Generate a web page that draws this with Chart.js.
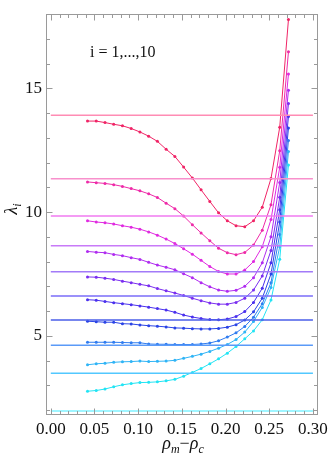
<!DOCTYPE html>
<html>
<head>
<meta charset="utf-8">
<script src="https://cdn.jsdelivr.net/npm/chart.js@4.4.1/dist/chart.umd.min.js"></script>
<style>
html, body { margin: 0; padding: 0; background: #fff; }
#wrap { width: 332px; height: 462px; position: relative; }
</style>
</head>
<body>
<div id="wrap"><canvas id="myChart"></canvas></div>
<script>
// sample positions on the rho_m - rho_c axis
const xValues = [0.042, 0.052, 0.062, 0.072, 0.082, 0.092, 0.102, 0.112, 0.122, 0.132, 0.142, 0.152,
                 0.162, 0.172, 0.182, 0.192, 0.202, 0.212, 0.222, 0.232, 0.242, 0.252, 0.262, 0.272];

// eigenvalues lambda_i
const lambda1 = [2.76, 2.79, 2.85, 2.94, 3.02, 3.07, 3.11, 3.12, 3.14, 3.18, 3.24, 3.37, 3.52, 3.68, 3.87, 4.07, 4.30, 4.57, 4.88, 5.20, 5.65, 6.45, 8.10, 11.90];
const lambda2 = [3.83, 3.87, 3.89, 3.93, 3.95, 3.96, 3.98, 3.96, 3.97, 3.98, 4.01, 4.09, 4.17, 4.26, 4.37, 4.50, 4.65, 4.85, 5.15, 5.58, 6.15, 6.95, 8.60, 12.45];
const lambda3 = [4.74, 4.74, 4.74, 4.74, 4.73, 4.72, 4.72, 4.67, 4.66, 4.66, 4.65, 4.65, 4.65, 4.67, 4.71, 4.80, 4.95, 5.12, 5.38, 5.75, 6.30, 7.15, 9.10, 12.90];
const lambda4 = [5.59, 5.57, 5.55, 5.55, 5.49, 5.48, 5.44, 5.41, 5.39, 5.36, 5.32, 5.31, 5.29, 5.28, 5.28, 5.30, 5.35, 5.45, 5.64, 5.97, 6.52, 7.50, 9.60, 13.40];
const lambda5 = [6.46, 6.44, 6.39, 6.34, 6.30, 6.26, 6.21, 6.16, 6.10, 6.04, 5.95, 5.84, 5.76, 5.70, 5.66, 5.65, 5.68, 5.78, 5.98, 6.35, 6.92, 7.95, 10.10, 13.87];
const lambda6 = [7.38, 7.37, 7.33, 7.28, 7.21, 7.15, 7.08, 7.02, 6.91, 6.82, 6.73, 6.63, 6.52, 6.42, 6.33, 6.28, 6.28, 6.35, 6.52, 6.85, 7.42, 8.45, 10.60, 14.39];
const lambda7 = [8.41, 8.38, 8.36, 8.29, 8.24, 8.16, 8.09, 7.97, 7.86, 7.77, 7.67, 7.51, 7.35, 7.15, 6.98, 6.85, 6.80, 6.84, 7.00, 7.35, 7.95, 9.00, 11.20, 14.93];
const lambda8 = [9.65, 9.60, 9.57, 9.52, 9.45, 9.39, 9.31, 9.20, 9.07, 8.91, 8.73, 8.52, 8.30, 8.05, 7.80, 7.60, 7.50, 7.50, 7.66, 8.00, 8.60, 9.70, 11.81, 15.58];
const lambda9 = [11.22, 11.19, 11.16, 11.11, 11.04, 10.95, 10.86, 10.74, 10.59, 10.36, 10.14, 9.84, 9.49, 9.16, 8.84, 8.54, 8.36, 8.28, 8.37, 8.67, 9.27, 10.30, 12.48, 16.48];
const lambda10 = [13.68, 13.68, 13.62, 13.55, 13.49, 13.38, 13.24, 13.07, 12.86, 12.54, 12.25, 11.82, 11.38, 10.90, 10.43, 9.97, 9.65, 9.45, 9.41, 9.65, 10.20, 11.36, 13.43, 17.79];

// reference levels (horizontal lines), i = 1..10
const levels = [1.96, 3.49, 4.62, 5.64, 6.61, 7.59, 8.64, 9.84, 11.35, 13.92];
const levelStart = 0;
const levelEnd = 0.30;

// tick labels
const xTicks = [0, 0.05, 0.10, 0.15, 0.20, 0.25, 0.30];
const yTicks = [5, 10, 15];

const curveColors = ['#22e4f4', '#2fb4f6', '#2f7cf0', '#2a44e6', '#4a30ee',
                     '#7a2ef0', '#b02cf0', '#e02ae0', '#ee2aa8', '#f02466'];
const levelColors = ['#7ff2ff', '#52c8ff', '#5a9af8', '#4a5ee8', '#7a6cf8',
                     '#a27af8', '#c87af8', '#f07af0', '#f890cc', '#ff8cb4'];

const allCurves = [lambda1, lambda2, lambda3, lambda4, lambda5, lambda6, lambda7, lambda8, lambda9, lambda10];

const datasets = [];
levels.forEach((lv, i) => {
    datasets.push({
        data: [{ x: levelStart, y: lv }, { x: levelEnd, y: lv }],
        showLine: true,
        borderColor: levelColors[i],
        borderWidth: 1.5,
        pointRadius: 0
    });
});
allCurves.forEach((vals, i) => {
    datasets.push({
        data: vals.map((v, k) => ({ x: xValues[k], y: v })),
        showLine: true,
        borderColor: curveColors[i],
        backgroundColor: curveColors[i],
        borderWidth: 1,
        pointRadius: 1.5,
        pointBorderWidth: 0,
        tension: 0
    });
});

const serif = 'Liberation Serif';

// frame with inward ticks, labels and the note
const framePlugin = {
    id: 'frame',
    afterDraw(c) {
        const { ctx, chartArea: a, scales: { x, y } } = c;
        ctx.save();
        ctx.strokeStyle = '#9a9a9a';
        ctx.lineWidth = 1;
        const L = Math.round(a.left) + 0.5, R = Math.round(a.right) - 0.5;
        const T = Math.round(a.top) + 0.5, B = Math.round(a.bottom) - 0.5;
        ctx.strokeRect(L, T, R - L, B - T);

        ctx.beginPath();
        for (let k = 0; k <= 30; k++) {
            const px = Math.round(x.getPixelForValue(k / 100)) + 0.5;
            const len = k % 5 === 0 ? 6 : 3.5;
            ctx.moveTo(px, B); ctx.lineTo(px, B - len);
            ctx.moveTo(px, T); ctx.lineTo(px, T + len);
        }
        for (let k = 2; k <= 17; k++) {
            const py = Math.round(y.getPixelForValue(k)) + 0.5;
            const len = k % 5 === 0 ? 6 : 3.5;
            ctx.moveTo(L, py); ctx.lineTo(L + len, py);
            ctx.moveTo(R, py); ctx.lineTo(R - len, py);
        }
        ctx.stroke();

        // note
        ctx.fillStyle = '#111';
        ctx.textBaseline = 'alphabetic';
        ctx.textAlign = 'left';
        ctx.font = '16px "' + serif + '"';
        ctx.fillText('i = 1,...,10', 90, 57);

        // x title: rho_m - rho_c
        const big = 'italic 18px "' + serif + '"';
        const small = 'italic 12px "' + serif + '"';
        const up = '18px "' + serif + '"';
        const parts = [['ρ', big, 0], ['m', small, 4], ['−', up, 0], ['ρ', big, 0], ['c', small, 4]];
        let w = 0;
        parts.forEach(p => { ctx.font = p[1]; w += ctx.measureText(p[0]).width; });
        let cx = 183 - w / 2;
        parts.forEach(p => {
            ctx.font = p[1];
            ctx.fillText(p[0], cx, 449 + p[2]);
            cx += ctx.measureText(p[0]).width;
        });

        // y title: lambda_i
        ctx.translate(12, 209);
        ctx.rotate(-Math.PI / 2);
        ctx.font = big;
        const lw = ctx.measureText('λ').width;
        ctx.font = small;
        const iw = ctx.measureText('i').width;
        ctx.font = big;
        ctx.fillText('λ', -(lw + iw) / 2, 5);
        ctx.font = small;
        ctx.fillText('i', -(lw + iw) / 2 + lw, 9);
        ctx.restore();
    }
};

const ctx = document.getElementById('myChart').getContext('2d');
const chart = new Chart(ctx, {
    type: 'scatter',
    data: { datasets },
    options: {
        responsive: true,
        maintainAspectRatio: false,
        animation: false,
        layout: { padding: { top: 1, right: 10, left: 0, bottom: 0 } },
        plugins: { legend: { display: false }, tooltip: { enabled: false } },
        scales: {
            x: {
                type: 'linear',
                min: -0.0055,
                max: 0.306,
                grid: { display: false, drawTicks: false },
                border: { display: false },
                afterBuildTicks: s => { s.ticks = xTicks.map(v => ({ value: v })); },
                afterFit: s => { s.height = 47; },
                ticks: {
                    padding: 4,
                    color: '#111',
                    autoSkip: false,
                    maxRotation: 0,
                    font: { family: serif, size: 17 },
                    callback: v => v.toFixed(2)
                }
            },
            y: {
                type: 'linear',
                min: 1.8,
                max: 18,
                grid: { display: false, drawTicks: false },
                border: { display: false },
                afterBuildTicks: s => { s.ticks = yTicks.map(v => ({ value: v })); },
                afterFit: s => { s.width = 46; },
                ticks: {
                    padding: 4,
                    color: '#111',
                    font: { family: serif, size: 17 },
                    callback: v => String(v)
                }
            }
        }
    },
    plugins: [framePlugin]
});
</script>
</body>
</html>
